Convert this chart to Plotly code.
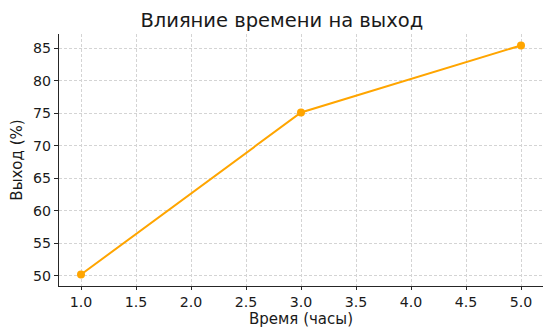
import plotly.graph_objects as go

time_h = [1.0, 3.0, 5.0]
yield_pct = [50.2, 75.1, 85.4]
x_ticks = [1.0, 1.5, 2.0, 2.5, 3.0, 3.5, 4.0, 4.5, 5.0]
y_ticks = [50, 55, 60, 65, 70, 75, 80, 85]

fig = go.Figure(go.Scatter(
    x=time_h, y=yield_pct, mode="lines+markers",
    line=dict(color="#FFA500", width=2),
    marker=dict(color="#FFA500", size=8),
))

axis_common = dict(
    showline=True, linecolor="#262626", linewidth=1.2,
    ticks="outside", tickcolor="#262626", tickwidth=1,
    showgrid=True, gridcolor="#d4d4d4", griddash="3px,2px", gridwidth=0.8,
    zeroline=False, mirror=False,
    tickfont=dict(family="DejaVu Sans", size=14.2, color="#1a1a1a"),
)

fig.update_layout(
    width=558, height=335,
    margin=dict(l=59, r=15, t=34, b=49),
    paper_bgcolor="white", plot_bgcolor="white",
    showlegend=False,
    title=dict(text="Влияние времени на выход", x=0.505, xanchor="center",
               y=0.94, yanchor="middle",
               font=dict(family="DejaVu Sans", size=19.5, color="#1a1a1a")),
    xaxis=dict(range=[0.8, 5.2], tickvals=x_ticks,
               ticktext=[f"{v:.1f}" for v in x_ticks],
               ticklen=3, **axis_common),
    yaxis=dict(range=[48.44, 87.16], tickvals=y_ticks, ticklen=4,
               title=dict(text="Выход (%)", standoff=6,
                          font=dict(family="DejaVu Sans", size=15, color="#1a1a1a")),
               **axis_common),
    annotations=[dict(text="Время (часы)", xref="paper", yref="paper",
                      x=0.5, y=-33 / 252, xanchor="center", yanchor="middle",
                      showarrow=False,
                      font=dict(family="DejaVu Sans", size=15, color="#1a1a1a"))],
)

fig.write_html("out.html")
